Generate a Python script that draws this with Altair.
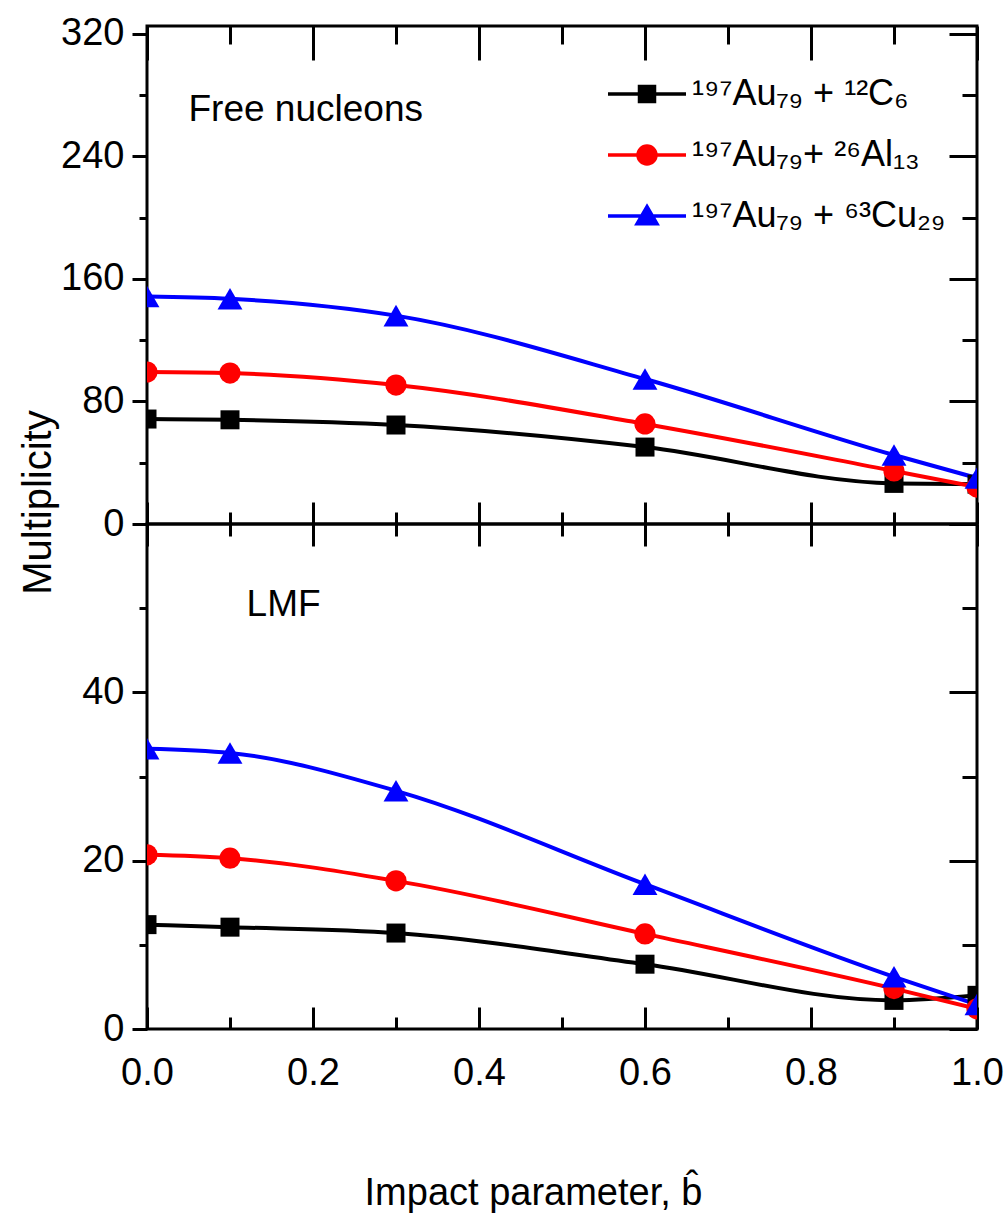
import altair as alt
import pandas as pd

# ---------------- data ----------------
b_hat = [0.0, 0.1, 0.3, 0.6, 0.9, 1.0]
systems = ["¹⁹⁷Au₇₉ + ¹²C₆", "¹⁹⁷Au₇₉+ ²⁶Al₁₃", "¹⁹⁷Au₇₉ + ⁶³Cu₂₉"]
colors = ["#000000", "#ff0000", "#0000ff"]
shapes = ["square", "circle", "triangle-up"]
marker_sizes = [361, 450, 620]

free_C = [68.5, 68.0, 64.6, 50.2, 26.5, 26.0]
free_Al = [99.2, 98.5, 90.7, 65.3, 34.6, 24.1]
free_Cu = [148.5, 147.0, 136.0, 94.6, 45.0, 30.0]

lmf_C = [12.4, 12.1, 11.4, 7.7, 3.4, 4.0]
lmf_Al = [20.7, 20.3, 17.6, 11.3, 4.8, 2.4]
lmf_Cu = [33.3, 32.8, 28.3, 17.2, 6.2, 2.9]

x_major = [0.0, 0.2, 0.4, 0.6, 0.8, 1.0]
x_minor = [0.1, 0.3, 0.5, 0.7, 0.9]
top_major = [0, 80, 160, 240, 320]
top_minor = [40, 120, 200, 280]
bot_labeled = [0, 20, 40]
bot_major = [0, 20, 40, 60]
bot_minor = [10, 30, 50]

notes_top = ["Free nucleons"]
notes_bot = ["LMF"]


def to_long(series_values):
    rows = []
    for name, vals in zip(systems, series_values):
        for b, v in zip(b_hat, vals):
            rows.append({"b": b, "m": v, "system": name})
    return pd.DataFrame(rows)


free_df = to_long([free_C, free_Al, free_Cu])
lmf_df = to_long([lmf_C, lmf_Al, lmf_Cu])

FONT = "Liberation Sans"
W = 830
LW = 4

legend_paths = [
    "M-2.6,0L2.6,0M-0.5,-0.5L0.5,-0.5L0.5,0.5L-0.5,0.5Z",
    "M-2.6,0L2.6,0M-0.6,0A0.6,0.6 0 1,0 0.6,0A0.6,0.6 0 1,0 -0.6,0Z",
    "M-2.6,0L2.6,0M0,-0.62L0.66,0.52L-0.66,0.52Z",
]


def tick_axis(orient, values, size, inward):
    kw = dict(orient=orient, values=values, tickSize=size, labels=False,
              domain=False, grid=False, title=None, ticks=True)
    if inward:
        kw["offset"] = -size
    return alt.Axis(**kw)


def panel(df, ydom, y_lab, y_major, y_minor, h, top_len, top_minor_len,
          note_text, note_x, note_y, with_legend, with_xlabels, ytitle):
    xs = alt.Scale(domain=[0, 1], nice=False, zero=False)
    ys = alt.Scale(domain=ydom, nice=False, zero=False)
    col = alt.Color("system:N", scale=alt.Scale(domain=systems, range=colors), legend=None)
    base = alt.Chart(df)

    left_kw = dict(orient="left", values=y_lab, tickSize=15, labelPadding=8,
                   domain=False, grid=False, format="d", labelFlush=False)
    if ytitle:
        left_kw.update(title=ytitle, titleX=-109, titleY=476, titleAngle=270,
                       titleAlign="center", titleBaseline="middle", titleFontSize=40)
    else:
        left_kw.update(title=None)

    lines = base.mark_line(interpolate="monotone", strokeWidth=LW, clip=True).encode(
        x=alt.X("b:Q", scale=xs, axis=tick_axis("bottom", x_major, 22, True)),
        y=alt.Y("m:Q", scale=ys, axis=alt.Axis(**left_kw)),
        color=col,
        detail="system:N",
    )
    point_layers = []
    for i, (s, shp, sz) in enumerate(zip(systems, shapes, marker_sizes)):
        if i == 0:
            xa = tick_axis("bottom", x_minor, 12, True)
            ya = tick_axis("left", y_minor, 8, False)
        else:
            xa = None
            ya = None
        p = base.mark_point(filled=True, opacity=1, clip=True, shape=shp, size=sz).encode(
            x=alt.X("b:Q", scale=xs, axis=xa),
            y=alt.Y("m:Q", scale=ys, axis=ya),
            color=col,
        ).transform_filter(alt.datum.system == s)
        point_layers.append(p)

    carrier_a = base.mark_point(opacity=0).encode(
        x=alt.X("b:Q", scale=xs, axis=tick_axis("top", x_major, top_len, True)),
        y=alt.Y("m:Q", scale=ys, axis=tick_axis("right", y_major, 28, True)),
    )
    carrier_b = base.mark_point(opacity=0).encode(
        x=alt.X("b:Q", scale=xs, axis=tick_axis("top", x_minor, top_minor_len, True)),
        y=alt.Y("m:Q", scale=ys, axis=tick_axis("right", y_minor, 15, True)),
    )
    note_df = pd.DataFrame({"b": [note_x], "m": [note_y], "t": note_text})
    note = alt.Chart(note_df).mark_text(
        align="left", baseline="middle", font=FONT, fontSize=37, color="black"
    ).encode(
        x=alt.X("b:Q", scale=xs, axis=None),
        y=alt.Y("m:Q", scale=ys, axis=None),
        text="t:N",
    )
    layers = [lines] + point_layers + [carrier_a, carrier_b, note]

    if with_legend:
        leg = alt.Legend(
            orient="none", legendX=482, legendY=50, title=None,
            symbolSize=900, symbolStrokeWidth=3.5, symbolOpacity=1,
            labelFont=FONT, labelFontSize=36, labelColor="black",
            labelOffset=27, rowPadding=25, padding=0, labelLimit=0,
        )
        leg_layer = base.mark_point(filled=True).encode(
            x=alt.X("b:Q", scale=xs, axis=None),
            y=alt.Y("m:Q", scale=ys, axis=None),
            fill=alt.Fill("system:N", scale=alt.Scale(domain=systems, range=colors), legend=leg),
            stroke=alt.Stroke("system:N", scale=alt.Scale(domain=systems, range=colors), legend=leg),
            shape=alt.Shape("system:N", scale=alt.Scale(domain=systems, range=legend_paths), legend=leg),
        ).transform_filter("datum.b > 5")
        layers.append(leg_layer)

    if with_xlabels:
        lab_layer = base.mark_point(opacity=0).encode(
            x=alt.X("b:Q", scale=xs, axis=alt.Axis(
                orient="bottom", values=x_major, ticks=False, tickSize=0, labelPadding=25,
                labelFlush=False,
                format=".1f", domain=False, grid=False, title="Impact parameter, b\u0302",
                titleX=386, titleY=145, titleAlign="center", titleBaseline="top",
                titleFontSize=38)),
            y=alt.Y("m:Q", scale=ys, axis=None),
        )
        layers.append(lab_layer)

    return alt.layer(*layers).resolve_axis(x="independent", y="independent").properties(
        width=W, height=h)


top = panel(free_df, [0, 325], top_major, top_major, top_minor, 498, 34, 18,
            notes_top, 0.05, 270, True, False, "Multiplicity")
bottom = panel(lmf_df, [0, 60], bot_labeled, bot_major, bot_minor, 505, 22, 12,
               notes_bot, 0.12, 50.4, False, True, None)

chart = alt.vconcat(top, bottom, spacing=0, bounds="flush").resolve_scale(
    color="independent"
).properties(
    padding={"left": 16, "top": 13, "right": 2, "bottom": 2}
).configure(
    font=FONT
).configure_view(
    stroke="black", strokeWidth=3
).configure_axis(
    labelFont=FONT, labelFontSize=38, labelColor="black", tickColor="black",
    tickWidth=3, titleFont=FONT, titleColor="black", titleFontWeight="normal",
    grid=False, labelFlush=False
)

chart.save("out.html", embed_options={"renderer": "svg", "actions": False})
